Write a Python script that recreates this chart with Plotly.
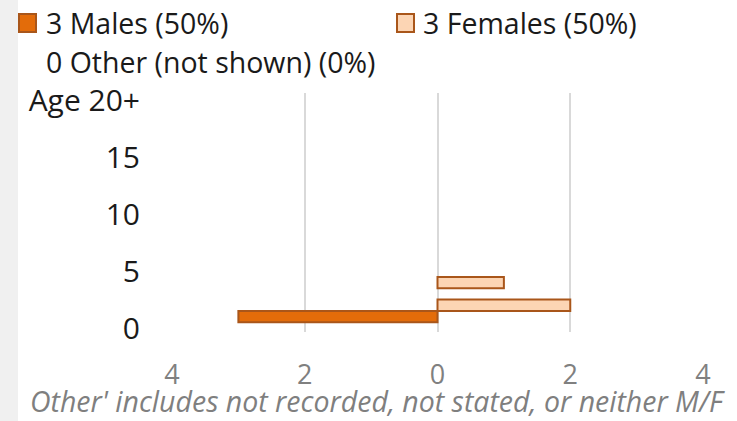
import plotly.graph_objects as go

# ---- data ----
male_ages = [1]
male_counts = [3]
female_ages = [2, 4]
female_counts = [2, 1]
y_tick_vals = [0, 5, 10, 15, 20]
y_tick_text = ["0", "5", "10", "15", "Age 20+"]
x_tick_vals = [-4, -2, 0, 2, 4]
x_tick_text = ["4", "2", "0", "2", "4"]
legend_labels = ["3 Males (50%)", "3 Females (50%)", "0 Other (not shown) (0%)"]
footer_text = "Other' includes not recorded, not stated, or neither M/F"

W, H = 737, 421
L, R, T, B = 172, 34, 93, 89
PW, PH = W - L - R, H - T - B
FONT = "Open Sans"

MALE_FILL = "#e36c0a"
FEMALE_FILL = "#fcd5b4"
EDGE = "#a9561a"

fig = go.Figure()
fig.add_trace(go.Bar(
    y=male_ages, x=[-c for c in male_counts], orientation="h", width=1,
    marker=dict(color=MALE_FILL, line=dict(color=EDGE, width=2)),
    showlegend=False, hoverinfo="skip"))
fig.add_trace(go.Bar(
    y=female_ages, x=female_counts, orientation="h", width=1,
    marker=dict(color=FEMALE_FILL, line=dict(color=EDGE, width=2)),
    showlegend=False, hoverinfo="skip"))

def px_x(p):
    return (p - L) / PW

def px_y(p):
    return 1 - (p - T) / PH

shapes = []
# left grey strip
shapes.append(dict(type="rect", xref="paper", yref="paper", layer="below",
                   x0=px_x(0), x1=px_x(18), y0=px_y(H), y1=px_y(0),
                   fillcolor="#f0f0f0", line=dict(width=0)))
# legend squares
shapes.append(dict(type="rect", xref="paper", yref="paper",
                   x0=px_x(19), x1=px_x(36), y0=px_y(32), y1=px_y(14),
                   fillcolor=MALE_FILL, line=dict(color=EDGE, width=2)))
shapes.append(dict(type="rect", xref="paper", yref="paper",
                   x0=px_x(397), x1=px_x(414), y0=px_y(32), y1=px_y(14),
                   fillcolor=FEMALE_FILL, line=dict(color=EDGE, width=2)))

annotations = []
legend_pos = [(44, 23), (421, 23), (44, 62)]
for (xp, yp), txt in zip(legend_pos, legend_labels):
    annotations.append(dict(text=txt, xref="paper", yref="paper",
                            x=px_x(xp), y=px_y(yp), xanchor="left", yanchor="middle",
                            showarrow=False, font=dict(family=FONT, size=28.5, color="#1a1a1a")))
annotations.append(dict(text="<i>" + footer_text + "</i>", xref="paper", yref="paper",
                        x=px_x(28), y=px_y(401), xanchor="left", yanchor="middle",
                        showarrow=False, font=dict(family=FONT, size=28.5, color="#7f7f7f")))

fig.update_layout(
    width=W, height=H,
    margin=dict(l=L, r=R, t=T, b=B, pad=0),
    paper_bgcolor="white", plot_bgcolor="white",
    barmode="overlay", showlegend=False,
    shapes=shapes, annotations=annotations,
    xaxis=dict(range=[-4, 4], tickvals=x_tick_vals, ticktext=x_tick_text,
               showgrid=True, gridcolor="#d9d9d9", gridwidth=2, zeroline=False,
               showline=False, ticks="outside", ticklen=19, tickcolor="rgba(0,0,0,0)",
               tickfont=dict(family=FONT, size=27, color="#808080"), fixedrange=True),
    yaxis=dict(range=[-0.352, 20.70], tickvals=y_tick_vals, ticktext=y_tick_text,
               showgrid=False, zeroline=False, showline=False,
               ticks="outside", ticklen=25, tickcolor="rgba(0,0,0,0)",
               tickfont=dict(family=FONT, size=30, color="#1a1a1a"), fixedrange=True),
)

fig.write_html("out.html", config={"displayModeBar": False},
               post_script="document.body.style.margin='0';document.body.style.overflow='hidden';")
